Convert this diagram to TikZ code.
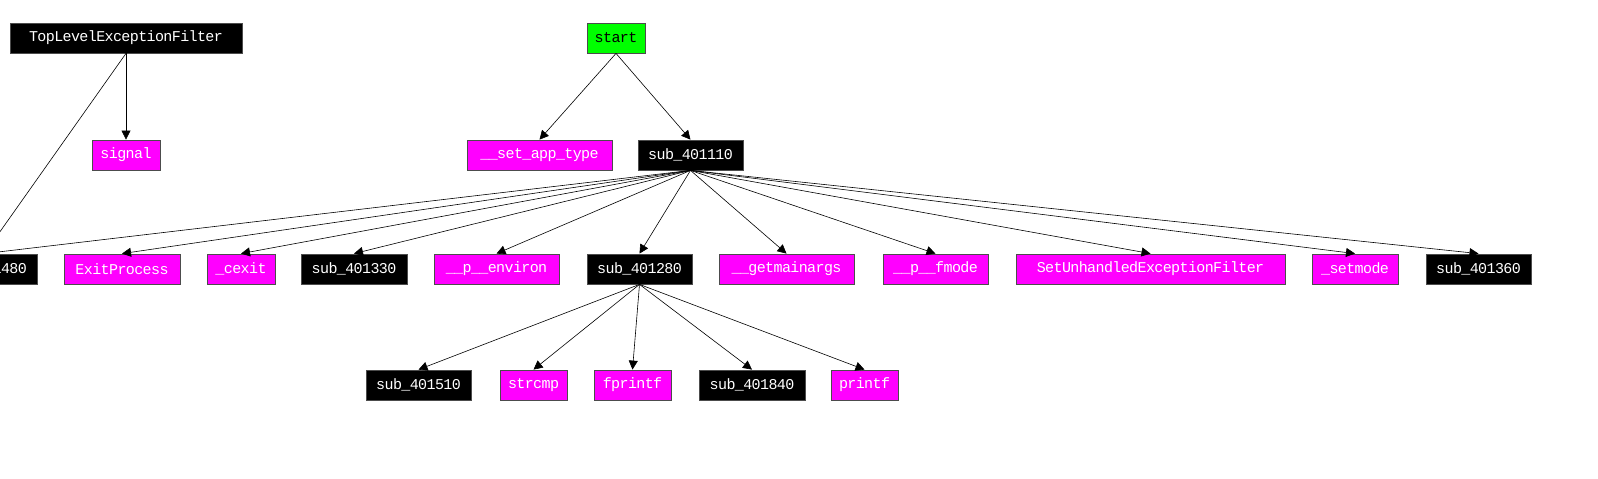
\documentclass[tikz,border=0pt]{standalone}
\usepackage{fontspec}
\setmainfont{Liberation Mono}
\usetikzlibrary{arrows.meta}
\definecolor{mg}{RGB}{255,0,255}
\definecolor{gr}{RGB}{0,255,0}
\begin{document}
\begin{tikzpicture}[x=1pt,y=-1pt,
  box/.style={draw=black!70,line width=0.8pt,minimum height=30pt,inner sep=0pt,font=\fontsize{15}{15}\selectfont\addfontfeatures{LetterSpace=-4}},
  blk/.style={box,fill=black,text=white},
  mag/.style={box,fill=mg,text=white},
  grn/.style={box,fill=gr,text=black},
  e/.style={-{Triangle[length=9pt,width=9pt]},line width=0.6pt}]
\useasboundingbox (0,0) rectangle (1598,479);
\node[blk,minimum width=232] (tlef) at (126,38) {TopLevelExceptionFilter};
\node[grn,minimum width=58] (start) at (616,38) {start};
\node[mag,minimum width=68] (signal) at (126,155) {signal};
\node[mag,minimum width=145] (sat) at (539.5,155) {\_\_set\_app\_type};
\node[blk,minimum width=105] (s110) at (690.5,155) {sub\_401110};
\node[blk,minimum width=105] (s480) at (-15.5,269) {sub\_401480};
\node[mag,minimum width=116] (ep) at (122,269) {ExitProcess};
\node[mag,minimum width=68] (cexit) at (241,269) {\_cexit};
\node[blk,minimum width=106] (s330) at (354,269) {sub\_401330};
\node[mag,minimum width=125] (env) at (496.5,269) {\_\_p\_\_environ};
\node[blk,minimum width=105] (s280) at (639.5,269) {sub\_401280};
\node[mag,minimum width=135] (gma) at (786.5,269) {\_\_getmainargs};
\node[mag,minimum width=105] (fm) at (935.5,269) {\_\_p\_\_fmode};
\node[mag,minimum width=269] (sue) at (1150.5,269) {SetUnhandledExceptionFilter};
\node[mag,minimum width=86] (sm) at (1355,269) {\_setmode};
\node[blk,minimum width=105] (s360) at (1478.5,269) {sub\_401360};
\node[blk,minimum width=105] (s510) at (418.5,385) {sub\_401510};
\node[mag,minimum width=67] (strcmp) at (533.5,385) {strcmp};
\node[mag,minimum width=77] (fpf) at (632.5,385) {fprintf};
\node[blk,minimum width=106] (s840) at (752,385) {sub\_401840};
\node[mag,minimum width=67] (pf) at (864.5,385) {printf};
\draw[e] (tlef.south) -- (signal.north);
\draw[e] (tlef.south) -- (s480.north);
\draw[e] (start.south) -- (sat.north);
\draw[e] (start.south) -- (s110.north);
\foreach \t in {s480,ep,cexit,s330,env,s280,gma,fm,sue,sm,s360}
  \draw[e] (s110.south) -- (\t.north);
\foreach \t in {s510,strcmp,fpf,s840,pf}
  \draw[e] (s280.south) -- (\t.north);
\end{tikzpicture}
\end{document}
